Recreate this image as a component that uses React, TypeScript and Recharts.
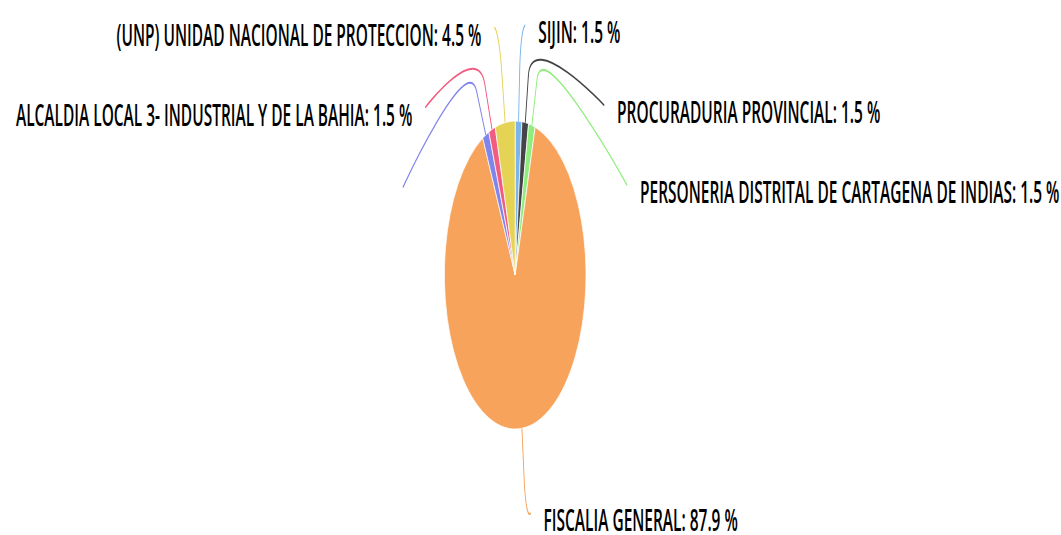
import { PieChart, Pie, Cell } from 'recharts';

const NAMES = [
  'SIJIN',
  'PROCURADURIA PROVINCIAL',
  'PERSONERIA DISTRITAL DE CARTAGENA DE INDIAS',
  'FISCALIA GENERAL',
  '', // label not shown in the original
  'ALCALDIA LOCAL 3- INDUSTRIAL Y DE LA BAHIA',
  '(UNP) UNIDAD NACIONAL DE PROTECCION',
];
const VALUES = [1, 1, 1, 58, 1, 1, 3];
const COLORS = ['#7cb5ec', '#434348', '#90ed7d', '#f7a35c', '#8085e9', '#f15c80', '#e4d354'];

const SCALE_X = 0.46;
const TEXT_STRETCH = 1.12;
const WIDTH = 2307;
const HEIGHT = 535;
const CX = 1115;
const CY = 270;
const RADIUS = 154;
const LABEL_DISTANCE = 96;
const LABEL_GAP = 80;
const LABEL_TOP = 24;
const LABEL_BOTTOM = 513;
const PADDING = 10;

const total = VALUES.reduce((a, b) => a + b, 0);
const chartData = NAMES.map((name, i) => ({ name, value: VALUES[i] }));

// middle of each slice, degrees clockwise from 12 o'clock
let acc = 0;
const midAngles = VALUES.map(v => {
  const a = ((acc + v / 2) / total) * 360;
  acc += v;
  return a;
});

type LabelPos = { x: number; y: number; left: boolean; bx: number; by: number; ex: number; ey: number };

function layoutLabels(cx: number, cy: number, r: number): LabelPos[] {
  const R = r + LABEL_DISTANCE;
  const items = midAngles.map((a, i) => {
    const rad = (a * Math.PI) / 180;
    return { i, rad, left: Math.sin(rad) < 0, naturalY: cy - R * Math.cos(rad) };
  });
  const out: LabelPos[] = [];
  [true, false].forEach(left => {
    const side = items.filter(it => it.left === left).sort((a, b) => a.naturalY - b.naturalY);
    let prev = -Infinity;
    side.forEach(it => {
      let y = Math.max(it.naturalY, LABEL_TOP, prev + LABEL_GAP);
      y = Math.min(y, LABEL_BOTTOM);
      prev = y;
      const clamped = y === LABEL_TOP || y === LABEL_BOTTOM;
      const yForX = clamped ? it.naturalY : y;
      const s = Math.max(-1, Math.min(1, (yForX - cy) / R));
      const dx = Math.cos(Math.asin(s)) * R + PADDING;
      const br = r + LABEL_DISTANCE / 2;
      out[it.i] = {
        x: cx + (left ? -dx : dx),
        y,
        left,
        bx: cx + br * Math.sin(it.rad),
        by: cy - br * Math.cos(it.rad),
        ex: cx + r * Math.sin(it.rad),
        ey: cy - r * Math.cos(it.rad),
      };
    });
  });
  return out;
}

function renderLabel(props: any) {
  const { index } = props;
  const cx = props.cx ?? CX;
  const cy = props.cy ?? CY;
  const r = props.outerRadius ?? RADIUS;
  const p = layoutLabels(cx, cy, r)[index];
  const name = NAMES[index];
  const pct = ((VALUES[index] / total) * 100).toFixed(1);
  const d = `M ${p.x} ${p.y} C ${p.x} ${p.y} ${2 * p.bx - p.ex} ${2 * p.by - p.ey} ${p.bx} ${p.by} L ${p.ex} ${p.ey}`;
  const tx = p.left ? p.x - 28 : p.x + 28;
  return (
    <g>
      <path d={d} fill="none" stroke={COLORS[index]} strokeWidth={2} />
      {name && (
        <g transform={`translate(${tx} ${p.y + 18}) scale(${TEXT_STRETCH} 1)`}>
          <text
            x={0}
            y={0}
            textAnchor={p.left ? 'end' : 'start'}
            fill="#000"
            fontFamily="'Open Sans', sans-serif"
            fontWeight={600}
            fontSize={30}
          >
            {`${name}: ${pct} %`}
          </text>
        </g>
      )}
    </g>
  );
}

export default function App() {
  return (
    <div style={{ position: 'fixed', left: 0, top: 0, width: 1061, height: HEIGHT, overflow: 'hidden', background: '#fff' }}>
      <div style={{ width: WIDTH, height: HEIGHT, transform: `scaleX(${SCALE_X})`, transformOrigin: '0 0' }}>
        <PieChart width={WIDTH} height={HEIGHT}>
          <Pie
            data={chartData}
            dataKey="value"
            nameKey="name"
            cx={CX}
            cy={CY}
            outerRadius={RADIUS}
            startAngle={90}
            endAngle={-270}
            stroke="#fff"
            strokeWidth={1}
            labelLine={false}
            label={renderLabel}
            isAnimationActive={false}
          >
            {chartData.map((_, index) => (
              <Cell key={`cell-${index}`} fill={COLORS[index]} />
            ))}
          </Pie>
        </PieChart>
      </div>
    </div>
  );
}
